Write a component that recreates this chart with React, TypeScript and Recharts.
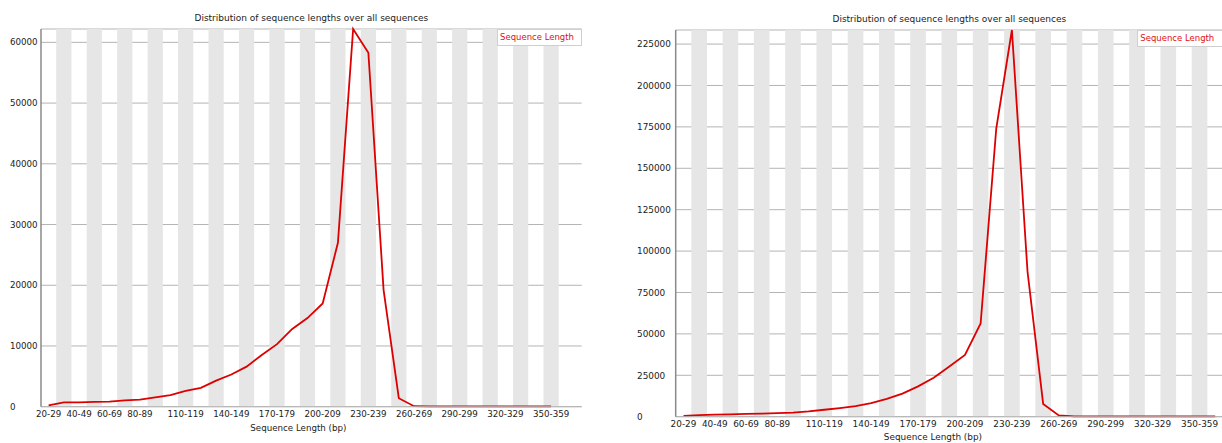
import React from 'react';
import { LineChart, Line, XAxis, YAxis, CartesianGrid, ReferenceArea, Legend } from 'recharts';

const FONT = '"DejaVu Sans", Verdana, sans-serif';
const LINE_RED = '#dd0000';

// 10 bp length bins
const binsLeft = [
  '20-29', '30-39', '40-49', '50-59', '60-69', '70-79', '80-89', '90-99', '100-109', '110-119',
  '120-129', '130-139', '140-149', '150-159', '160-169', '170-179', '180-189', '190-199', '200-209', '210-219',
  '220-229', '230-239', '240-249', '250-259', '260-269', '270-279', '280-289', '290-299', '300-309', '310-319',
  '320-329', '330-339', '340-349', '350-359',
];
const binsRight = [...binsLeft, '360-369'];

// only these get a label on the x axis (the rest would overlap)
const xTickLabels = [
  '20-29', '40-49', '60-69', '80-89', '110-119', '140-149', '170-179', '200-209',
  '230-239', '260-269', '290-299', '320-329', '350-359',
];

const countsLeft = [
  200, 720, 720, 800, 820, 1050, 1150, 1550, 1900, 2600,
  3100, 4300, 5300, 6600, 8500, 10300, 12800, 14600, 17000, 27000,
  62200, 58300, 19200, 1400, 80, 70, 60, 60, 60, 70,
  60, 70, 60, 60,
];
const countsRight = [
  500, 900, 1300, 1400, 1700, 1800, 2100, 2500, 3200, 4200,
  5200, 6400, 8200, 10800, 13900, 18300, 23500, 30300, 37300, 56300,
  174000, 233500, 87500, 7700, 800, 200, 150, 150, 150, 150,
  150, 150, 150, 150, 150,
];

const yTicksLeft = [0, 10000, 20000, 30000, 40000, 50000, 60000];
const yTicksRight = [0, 25000, 50000, 75000, 100000, 125000, 150000, 175000, 200000, 225000];

const YTick = (props: any) => {
  const { y, payload, textX, fontSize } = props;
  return (
    <text x={textX} y={y} dy="0.36em" textAnchor="start" fontSize={fontSize} fontFamily={FONT} fill="#222">
      {payload.value}
    </text>
  );
};

const SeriesKey = ({ fontSize }: { fontSize: number }) => (
  <div
    style={{
      boxSizing: 'border-box',
      width: '100%',
      height: 17,
      border: '1px solid #cfcfcf',
      background: '#fff',
      color: '#e01010',
      fontFamily: FONT,
      fontSize,
      lineHeight: '15px',
      paddingLeft: 2,
      whiteSpace: 'nowrap',
      textAlign: 'left',
    }}
  >
    Sequence Length
  </div>
);

interface PanelProps {
  bins: string[];
  counts: number[];
  yTicks: number[];
  left: number;
  width: number;
  top: number;
  plotRight: number;
  yAxisWidth: number;
  xAxisHeight: number;
  padRight: number;
  tickTextX: number;
  fontSize: number;
  titleTop: number;
  xTitleDx: number;
  xTitleOffset: number;
  keyLeft: number;
  keyWidth: number;
}

const LengthPanel: React.FC<PanelProps> = (p) => {
  const data = p.bins.map((bin, i) => ({ bin, count: p.counts[i] }));
  const plotLeft = p.yAxisWidth;
  return (
    <div style={{ position: 'absolute', left: p.left, top: 0, width: p.width, height: 443 }}>
      <div
        style={{
          position: 'absolute',
          left: plotLeft,
          width: p.plotRight - plotLeft,
          top: p.titleTop,
          textAlign: 'center',
          fontFamily: FONT,
          fontSize: 9,
          lineHeight: '9px',
          color: '#222',
          whiteSpace: 'nowrap',
        }}
      >
        Distribution of sequence lengths over all sequences
      </div>
      <LineChart
        width={p.width}
        height={443}
        data={data}
        margin={{ top: p.top, right: p.width - p.plotRight, bottom: 0, left: 0 }}
      >
        {p.bins
          .filter((_, i) => i % 2 === 1)
          .map((b) => (
            <ReferenceArea key={b} x1={b} x2={b} fill="#e6e6e6" fillOpacity={1} stroke="none" />
          ))}
        <CartesianGrid vertical={false} stroke="#b4b4b4" />
        <XAxis
          dataKey="bin"
          scale="band"
          interval={0}
          height={p.xAxisHeight}
          padding={{ left: 0, right: p.padRight }}
          tickLine={false}
          tickSize={0}
          tickMargin={4}
          axisLine={{ stroke: '#b4b4b4' }}
          tick={{ fill: '#222', fontSize: p.fontSize, fontFamily: FONT }}
          tickFormatter={(v: string) => (xTickLabels.includes(v) ? v : '')}
          label={{
            value: 'Sequence Length (bp)',
            position: 'insideBottom',
            offset: p.xTitleOffset,
            dx: p.xTitleDx,
            fill: '#222',
            fontSize: p.fontSize,
            fontFamily: FONT,
          }}
        />
        <YAxis
          width={p.yAxisWidth}
          domain={[0, 'dataMax']}
          ticks={p.yTicks}
          tickLine={false}
          tickSize={0}
          axisLine={{ stroke: '#8a8a8a', strokeWidth: 1.5 }}
          tick={(tp: any) => <YTick {...tp} textX={p.tickTextX} fontSize={p.fontSize} />}
        />
        <Legend
          layout="horizontal"
          verticalAlign="middle"
          align="center"
          wrapperStyle={{ top: p.top, left: p.keyLeft, width: p.keyWidth, height: 17 }}
          content={() => <SeriesKey fontSize={8.5} />}
        />
        <Line
          type="linear"
          dataKey="count"
          stroke={LINE_RED}
          strokeWidth={1.8}
          dot={false}
          activeDot={false}
          isAnimationActive={false}
        />
      </LineChart>
    </div>
  );
};

export default function App() {
  return (
    <div style={{ position: 'absolute', left: 0, top: 0, width: 1222, height: 443, background: '#fff', overflow: 'hidden' }}>
      <LengthPanel
        bins={binsLeft}
        counts={countsLeft}
        yTicks={yTicksLeft}
        left={0}
        width={600}
        top={29}
        plotRight={581.7}
        yAxisWidth={41}
        xAxisHeight={36.3}
        padRight={23}
        tickTextX={10}
        fontSize={8.7}
        titleTop={14}
        xTitleDx={-13}
        xTitleOffset={12.5}
        keyLeft={497}
        keyWidth={85}
      />
      <LengthPanel
        bins={binsRight}
        counts={countsRight}
        yTicks={yTicksRight}
        left={610}
        width={613}
        top={30}
        plotRight={613}
        yAxisWidth={65.7}
        xAxisHeight={26.3}
        padRight={0}
        tickTextX={27}
        fontSize={8.9}
        titleTop={14.7}
        xTitleDx={-16.4}
        xTitleOffset={3.2}
        keyLeft={527.3}
        keyWidth={90}
      />
    </div>
  );
}
